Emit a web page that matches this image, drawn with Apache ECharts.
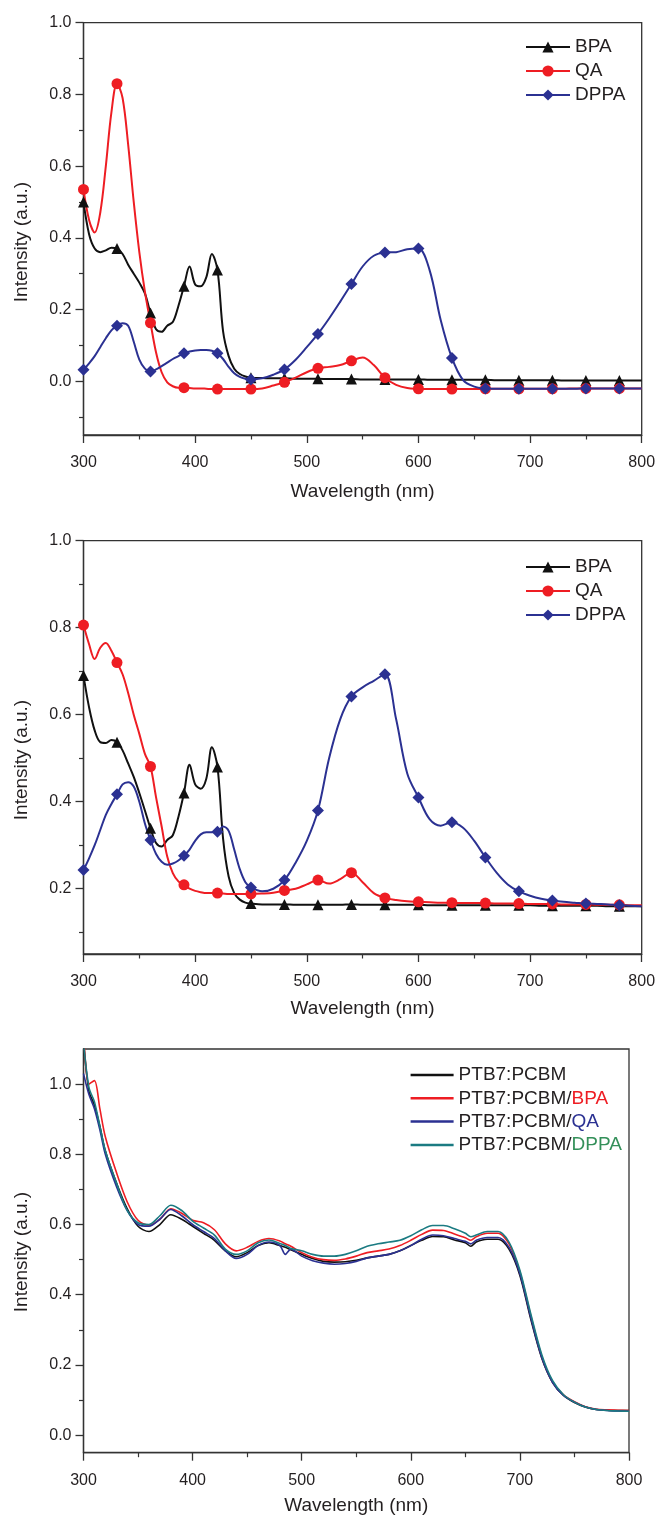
<!DOCTYPE html>
<html><head><meta charset="utf-8">
<script src="https://cdn.jsdelivr.net/npm/echarts@6/dist/echarts.min.js"></script>
<style>html,body{margin:0;padding:0;background:#fff}#c{width:659px;height:1517px}</style>
</head><body><div id="c"></div>
<script>
// ---------- data ----------
const wl12 = [300,305,310,315,320,325,330,335,340,345,350,355,360,365,370,375,380,385,390,395,400,405,410,415,420,425,430,435,440,445,450,
  460,470,480,490,500,510,520,530,540,550,560,570,580,590,600,610,620,630,640,650,660,670,680,690,700,710,720,730,740,750,760,770,780,790,800];

const p1BPA = [0.50,0.41,0.37,0.36,0.365,0.372,0.37,0.355,0.325,0.30,0.275,0.245,0.19,0.145,0.138,0.155,0.165,0.21,0.265,0.32,0.27,0.265,0.29,0.355,0.31,0.14,0.07,0.035,0.02,0.013,0.01,
  0.009,0.008,0.008,0.007,0.007,0.007,0.006,0.006,0.006,0.005,0.005,0.005,0.005,0.005,0.005,0.004,0.004,0.004,0.004,0.004,0.004,0.003,0.003,0.003,0.003,0.003,0.003,0.002,0.002,0.002,0.002,0.002,0.002,0.002,0.002];
const p1QA = [0.535,0.45,0.415,0.47,0.60,0.75,0.83,0.79,0.66,0.50,0.36,0.25,0.163,0.08,0.025,-0.003,-0.014,-0.018,-0.018,-0.019,-0.02,-0.02,-0.021,-0.022,-0.022,-0.022,-0.022,-0.022,-0.022,-0.022,-0.022,
  -0.02,-0.012,-0.003,0.01,0.025,0.036,0.04,0.045,0.057,0.066,0.045,0.01,-0.01,-0.019,-0.021,-0.022,-0.022,-0.022,-0.022,-0.022,-0.021,-0.021,-0.021,-0.021,-0.021,-0.021,-0.021,-0.021,-0.02,-0.02,-0.02,-0.02,-0.02,-0.02,-0.02];
const p1DPPA = [0.032,0.05,0.07,0.095,0.12,0.142,0.155,0.162,0.155,0.11,0.06,0.035,0.027,0.033,0.042,0.052,0.062,0.07,0.078,0.083,0.086,0.087,0.087,0.085,0.078,0.062,0.04,0.022,0.012,0.007,0.005,
  0.008,0.018,0.033,0.06,0.095,0.132,0.175,0.222,0.271,0.32,0.35,0.359,0.36,0.368,0.37,0.31,0.17,0.065,0.003,-0.015,-0.02,-0.021,-0.021,-0.021,-0.021,-0.021,-0.021,-0.021,-0.021,-0.02,-0.02,-0.02,-0.02,-0.02,-0.02];

const p2BPA = [0.69,0.617,0.564,0.537,0.535,0.542,0.537,0.518,0.488,0.457,0.42,0.38,0.339,0.305,0.297,0.312,0.323,0.365,0.42,0.485,0.44,0.43,0.453,0.525,0.48,0.316,0.228,0.19,0.175,0.168,0.166,
  0.164,0.164,0.164,0.163,0.163,0.163,0.163,0.163,0.164,0.163,0.163,0.163,0.163,0.163,0.163,0.162,0.162,0.162,0.162,0.162,0.162,0.162,0.162,0.162,0.162,0.161,0.161,0.161,0.161,0.161,0.161,0.16,0.16,0.16,0.16];
const p2QA = [0.806,0.762,0.728,0.754,0.765,0.747,0.72,0.693,0.65,0.60,0.556,0.51,0.481,0.41,0.343,0.274,0.236,0.217,0.209,0.20,0.195,0.192,0.19,0.19,0.19,0.189,0.188,0.188,0.188,0.188,0.188,
  0.189,0.191,0.196,0.20,0.21,0.22,0.212,0.222,0.237,0.215,0.19,0.179,0.174,0.171,0.17,0.169,0.168,0.168,0.167,0.167,0.167,0.166,0.166,0.166,0.165,0.165,0.165,0.164,0.164,0.164,0.163,0.163,0.163,0.162,0.162];
const p2DPPA = [0.243,0.27,0.30,0.335,0.37,0.395,0.417,0.44,0.445,0.435,0.40,0.35,0.312,0.28,0.262,0.255,0.258,0.265,0.276,0.29,0.31,0.325,0.33,0.33,0.331,0.343,0.333,0.29,0.245,0.215,0.203,
  0.194,0.20,0.22,0.26,0.31,0.38,0.50,0.59,0.642,0.663,0.678,0.693,0.59,0.465,0.41,0.36,0.345,0.353,0.34,0.31,0.272,0.237,0.21,0.194,0.184,0.177,0.173,0.17,0.168,0.166,0.165,0.164,0.162,0.161,0.16];

const wl3 = [300,305,310,315,320,330,340,350,360,370,380,390,400,410,420,430,440,450,460,470,480,485,490,500,510,520,530,540,550,560,570,580,590,600,610,620,630,640,650,655,660,670,680,690,700,710,720,730,740,750,760,770,780,790,800];
const p3Base = [1.12,0.98,0.94,0.88,0.81,0.72,0.645,0.595,0.58,0.60,0.628,0.615,0.595,0.575,0.555,0.525,0.508,0.52,0.54,0.548,0.54,0.535,0.528,0.515,0.503,0.495,0.493,0.494,0.498,0.505,0.51,0.515,0.525,0.54,0.555,0.566,0.565,0.556,0.548,0.538,0.55,0.558,0.558,0.53,0.455,0.33,0.22,0.15,0.113,0.093,0.08,0.073,0.071,0.07,0.07];
const p3BPA = [1.15,1.0,1.01,0.93,0.85,0.75,0.665,0.612,0.598,0.615,0.645,0.632,0.612,0.605,0.585,0.545,0.525,0.535,0.552,0.56,0.553,0.545,0.538,0.52,0.507,0.50,0.498,0.502,0.51,0.52,0.525,0.53,0.54,0.555,0.572,0.584,0.583,0.573,0.562,0.555,0.565,0.575,0.575,0.545,0.465,0.34,0.225,0.152,0.115,0.095,0.081,0.074,0.072,0.071,0.07];
const p3QA = [1.03,0.97,0.93,0.87,0.80,0.71,0.64,0.60,0.595,0.615,0.643,0.625,0.60,0.58,0.56,0.525,0.503,0.515,0.54,0.55,0.54,0.515,0.53,0.51,0.497,0.49,0.487,0.489,0.495,0.505,0.51,0.515,0.525,0.54,0.558,0.57,0.568,0.56,0.552,0.545,0.555,0.563,0.563,0.535,0.46,0.335,0.222,0.15,0.113,0.094,0.08,0.073,0.07,0.069,0.068];
const p3DPPA = [1.12,0.99,0.95,0.88,0.81,0.72,0.64,0.605,0.60,0.625,0.655,0.64,0.61,0.59,0.57,0.53,0.515,0.525,0.548,0.556,0.546,0.54,0.532,0.525,0.515,0.51,0.51,0.515,0.525,0.538,0.545,0.55,0.555,0.568,0.585,0.597,0.597,0.588,0.575,0.565,0.57,0.58,0.58,0.55,0.47,0.345,0.23,0.155,0.115,0.094,0.08,0.073,0.07,0.069,0.068];

const names12 = ['BPA','QA','DPPA'];
const names3 = ['PTB7:PCBM','PTB7:PCBM/BPA','PTB7:PCBM/QA','PTB7:PCBM/DPPA'];
const y1Major = [0,0.2,0.4,0.6,0.8,1.0], y1Minor = [-0.1,0.1,0.3,0.5,0.7,0.9];
const y2Major = [0.2,0.4,0.6,0.8,1.0],   y2Minor = [0.1,0.3,0.5,0.7,0.9];
const y3Major = [0,0.2,0.4,0.6,0.8,1.0], y3Minor = [0.1,0.3,0.5,0.7,0.9];
const yRange = [[-0.15,1.0],[0.05,1.0],[-0.05,1.1]];

// ---------- style ----------
const FONT = '"Liberation Sans", Arial, sans-serif';
const TXT = '#231f20';
const AX = '#333333';
const C = {black:'#111111', red:'#ee1d23', blue:'#2b3192', teal:'#1b7b82', green:'#34905a'};
const markStart = 300, markStep = 30, markEnd = 780;
function pts(xs, ys){ return xs.map((x,i)=>[x, ys[i]]); }
function markSize(s){ return v => (((v[0]-markStart) % markStep === 0) && v[0] <= markEnd) ? s : 0; }

const grids = [
  {left:83.5, top:22.7, width:558.2, height:412.3},
  {left:83.5, top:540.7, width:558.2, height:413.3},
  {left:83.5, top:1049, width:545.5, height:403.7}
].map(g => Object.assign(g, {show:true, borderColor:AX, borderWidth:1.3, backgroundColor:'rgba(0,0,0,0)'}));

const nameGaps = [47.5, 45, 44];
const xAxes = [0,1,2].map(i => ({
  type:'value', gridIndex:i, position:'bottom', min:300, max:800, interval:100,
  axisLine:{show:true, onZero:false, lineStyle:{color:AX, width:1.3}},
  axisTick:{show:true, length:8, lineStyle:{color:AX, width:1.3}},
  minorTick:{show:true, splitNumber:2, length:4.5, lineStyle:{color:AX, width:1.2}},
  splitLine:{show:false}, minorSplitLine:{show:false},
  axisLabel:{fontSize:16, color:TXT, fontFamily:FONT, margin:20, showMinLabel:true, showMaxLabel:true},
  name:'Wavelength (nm)', nameLocation:'middle', nameGap:nameGaps[i],
  nameTextStyle:{fontSize:19, color:TXT, fontFamily:FONT}
}));

const majors = [y1Major, y2Major, y3Major], minors = [y1Minor, y2Minor, y3Minor];
const yAxes = [];
[0,1,2].forEach(i => {
  yAxes.push({
    type:'value', gridIndex:i, position:'left', min:yRange[i][0], max:yRange[i][1],
    axisLine:{show:true, onZero:false, lineStyle:{color:AX, width:1.3}},
    axisTick:{show:true, length:8, customValues:majors[i], lineStyle:{color:AX, width:1.3}},
    axisLabel:{fontSize:16, color:TXT, fontFamily:FONT, margin:12, customValues:majors[i], formatter:v => v.toFixed(1)},
    splitLine:{show:false}
  });
  yAxes.push({
    type:'value', gridIndex:i, position:'left', offset:0, min:yRange[i][0], max:yRange[i][1],
    axisLine:{show:false, onZero:false},
    axisTick:{show:true, length:4.5, customValues:minors[i], lineStyle:{color:AX, width:1.2}},
    axisLabel:{show:false}, splitLine:{show:false}
  });
});

function markSeries(name, xs, ys, color, symbol, size, panel){
  return {
    type:'line', name, xAxisIndex:panel, yAxisIndex:panel*2, data:pts(xs, ys),
    smooth:0.35, color, lineStyle:{color, width:2}, itemStyle:{color, borderWidth:0},
    symbol, symbolSize:markSize(size), showSymbol:true, showAllSymbol:true, clip:true,
    emphasis:{disabled:true}, silent:true
  };
}
function plainSeries(name, xs, ys, color){
  return {
    type:'line', name, xAxisIndex:2, yAxisIndex:4, data:pts(xs, ys),
    smooth:0.3, color, lineStyle:{color, width:1.6}, symbol:'none', showSymbol:false, clip:true,
    emphasis:{disabled:true}, silent:true
  };
}

const series = [
  markSeries('BPA', wl12, p1BPA, C.black, 'triangle', 11, 0),
  markSeries('QA', wl12, p1QA, C.red, 'circle', 11, 0),
  markSeries('DPPA', wl12, p1DPPA, C.blue, 'diamond', 12, 0),
  markSeries('BPA', wl12, p2BPA, C.black, 'triangle', 11, 1),
  markSeries('QA', wl12, p2QA, C.red, 'circle', 11, 1),
  markSeries('DPPA', wl12, p2DPPA, C.blue, 'diamond', 12, 1),
  plainSeries(names3[0], wl3, p3Base, C.black),
  plainSeries(names3[1], wl3, p3BPA, C.red),
  plainSeries(names3[2], wl3, p3QA, C.blue),
  plainSeries(names3[3], wl3, p3DPPA, C.teal)
];

const legTxt = {fontSize:19, color:TXT, fontFamily:FONT, lineHeight:19};
const legends = [
  {data:names12, orient:'vertical', left:520, top:32.5, itemWidth:44, itemHeight:14, itemGap:5, textStyle:legTxt, selectedMode:false},
  {data:names12, orient:'vertical', left:520, top:552.5, itemWidth:44, itemHeight:14, itemGap:5, textStyle:legTxt, selectedMode:false},
  {data:names3, orient:'vertical', left:405.6, top:1060.5, itemWidth:43, itemHeight:2.5, itemGap:4.3, icon:'rect', selectedMode:false,
   textStyle:Object.assign({}, legTxt, {rich:{
     k:{fontSize:19, color:TXT, fontFamily:FONT, lineHeight:19},
     r:{fontSize:19, color:C.red, fontFamily:FONT, lineHeight:19},
     b:{fontSize:19, color:C.blue, fontFamily:FONT, lineHeight:19},
     g:{fontSize:19, color:C.green, fontFamily:FONT, lineHeight:19}}}),
   formatter:name => {
     const parts = name.split('/');
     if (parts.length < 2) return '{k|' + name + '}';
     const tag = {BPA:'r', QA:'b', DPPA:'g'}[parts[1]];
     return '{k|' + parts[0] + '/}{' + tag + '|' + parts[1] + '}';
   }}
];

const yTitleY = [242, 760, 1252];
const graphic = yTitleY.map(y => ({
  type:'text', x:22, y:y, rotation:Math.PI/2, silent:true,
  style:{text:'Intensity (a.u.)', fill:TXT, font:'19px ' + FONT, fontSize:19, fontFamily:FONT,
         align:'center', verticalAlign:'middle', textAlign:'center', textVerticalAlign:'middle'}
}));

const chart = echarts.init(document.getElementById('c'), null, {renderer:'canvas'});
chart.setOption({
  backgroundColor:'#ffffff', animation:false,
  grid:grids, xAxis:xAxes, yAxis:yAxes, series, legend:legends, graphic,
  tooltip:{show:false}
});
</script></body></html>
